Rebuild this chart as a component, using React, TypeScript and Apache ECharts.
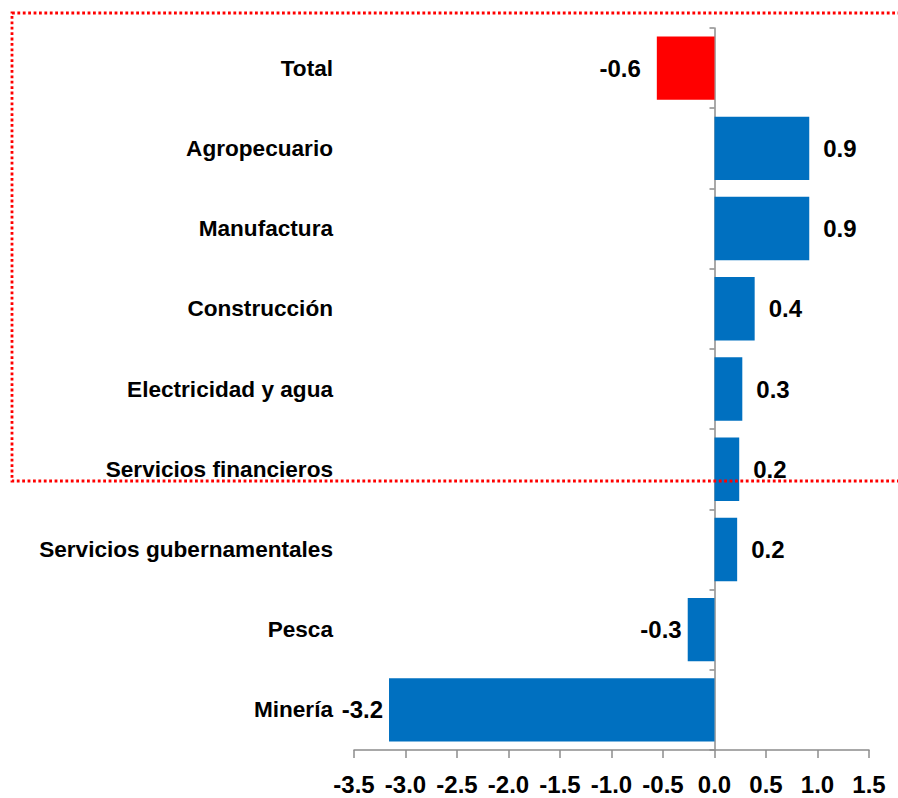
import React, { useEffect, useRef } from "react";
import * as echarts from "echarts";

const categories = [
  "Total",
  "Agropecuario",
  "Manufactura",
  "Construcción",
  "Electricidad y agua",
  "Servicios financieros",
  "Servicios gubernamentales",
  "Pesca",
  "Minería",
];
const values = [-0.56, 0.92, 0.92, 0.39, 0.27, 0.24, 0.22, -0.26, -3.16];
const barColors = ["#FF0000", "#0070C0", "#0070C0", "#0070C0", "#0070C0", "#0070C0", "#0070C0", "#0070C0", "#0070C0"];
const labelDistances = [16, 14, 14, 14, 14, 14, 14, 6, 6];

const FONT = "'Liberation Sans', Arial, sans-serif";

export default function App() {
  const ref = useRef<HTMLDivElement>(null);
  useEffect(() => {
    if (!ref.current) return;
    const chart = echarts.init(ref.current, null, { renderer: "svg" });
    const data = values.map((v, i) => ({
      value: v,
      itemStyle: { color: barColors[i] },
      label: {
        position: v < 0 ? "left" : "right",
        distance: labelDistances[i],
      },
    }));
    chart.setOption({
      animation: false,
      backgroundColor: "#ffffff",
      grid: { left: 354, right: 29, top: 28, bottom: 48, containLabel: false },
      xAxis: {
        type: "value",
        min: -3.5,
        max: 1.5,
        interval: 0.5,
        position: "bottom",
        splitLine: { show: false },
        axisLine: { show: true, onZero: false, lineStyle: { color: "#8C8C8C", width: 1.5 } },
        axisTick: { show: true, length: 8, lineStyle: { color: "#8C8C8C", width: 1.5 } },
        axisLabel: {
          margin: 22,
          color: "#000",
          fontFamily: FONT,
          fontWeight: "bold",
          fontSize: 24,
          formatter: (v: number) => v.toFixed(1),
        },
      },
      yAxis: [
        {
          type: "category",
          data: categories,
          inverse: true,
          axisLine: { show: false, onZero: false },
          axisTick: { show: false },
          axisLabel: {
            margin: 21,
            color: "#000",
            fontFamily: FONT,
            fontWeight: "bold",
            fontSize: 22.6,
          },
        },
        {
          type: "category",
          data: categories,
          inverse: true,
          position: "left",
          axisLine: { show: true, onZero: true, lineStyle: { color: "#8C8C8C", width: 1.5 } },
          axisTick: { show: true, length: 5, inside: false, lineStyle: { color: "#8C8C8C", width: 1.5 } },
          axisLabel: { show: false },
        },
      ],
      series: [
        {
          type: "bar",
          data,
          yAxisIndex: 0,
          barCategoryGap: "21%",
          label: {
            show: true,
            color: "#000",
            fontFamily: FONT,
            fontWeight: "bold",
            fontSize: 24,
            formatter: (p: any) => (p.value as number).toFixed(1),
          },
        },
      ],
      graphic: [
        {
          type: "rect",
          silent: true,
          z: 100,
          shape: { x: 12, y: 13, width: 920, height: 468 },
          style: {
            fill: "none",
            stroke: "#FF0000",
            lineWidth: 2.8,
            lineDash: [2.8, 2.6],
          },
        },
      ],
    });
    return () => chart.dispose();
  }, []);
  return <div ref={ref} style={{ width: 898, height: 798, position: "absolute", left: 0, top: 0 }} />;
}
